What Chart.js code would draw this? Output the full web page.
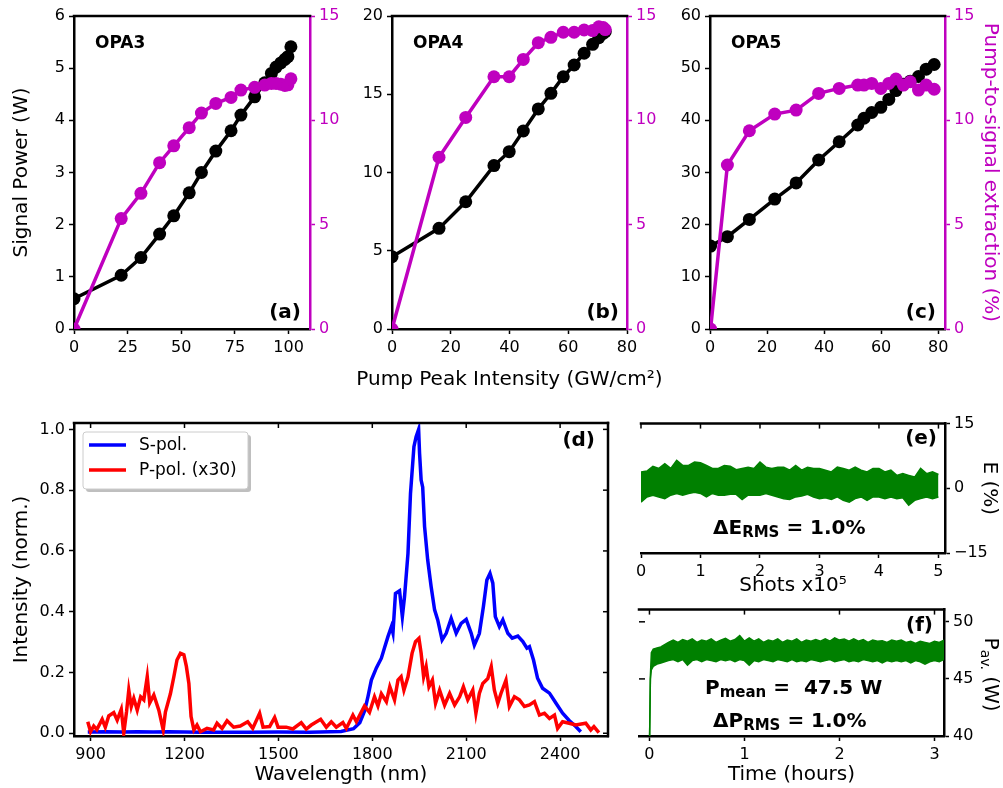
<!DOCTYPE html>
<html>
<head>
<meta charset="utf-8">
<title>OPA</title>
<script src="https://cdn.jsdelivr.net/npm/chart.js@4.4.1/dist/chart.umd.min.js"></script>
<style>
  html, body { margin: 0; padding: 0; background: #fff; }
  body { position: relative; width: 1003px; height: 788px; overflow: hidden; }
  canvas { position: absolute; }
</style>
</head>
<body>
<canvas id="grafA" width="345" height="362" style="left:0px;top:0px"></canvas>
<canvas id="grafB" width="340" height="396" style="left:330px;top:0px"></canvas>
<canvas id="grafC" width="335" height="362" style="left:668px;top:0px"></canvas>
<canvas id="grafD" width="620" height="390" style="left:0px;top:398px"></canvas>
<canvas id="grafE" width="372" height="189" style="left:631px;top:410px"></canvas>
<canvas id="grafF" width="374" height="192" style="left:629px;top:596px"></canvas>
<script>
// ---- dados ----

// (a) OPA3
const opa3Intensidade = [0, 22, 31.2, 39.9, 46.5, 53.7, 59.4, 66.1, 73.2, 77.8, 84.2, 88.9, 92, 94.2, 96.4, 98.3, 99.7, 101.1];
const opa3Potencia = [0.58, 1.03, 1.37, 1.82, 2.17, 2.61, 3.0, 3.41, 3.80, 4.10, 4.45, 4.72, 4.90, 5.02, 5.10, 5.17, 5.22, 5.41];
const opa3Extracao = [0, 5.29, 6.5, 7.97, 8.78, 9.65, 10.35, 10.81, 11.1, 11.45, 11.58, 11.69, 11.77, 11.77, 11.73, 11.67, 11.7, 11.99];

// (b) OPA4
const opa4Intensidade = [0, 16, 25.1, 34.7, 39.9, 44.7, 49.8, 54.1, 58.3, 62, 65.4, 68.3, 70.4, 71.9, 72.6];
const opa4Potencia = [4.62, 6.43, 8.13, 10.44, 11.33, 12.65, 14.06, 15.06, 16.12, 16.87, 17.62, 18.19, 18.61, 18.89, 19.0];
const opa4Extracao = [0, 8.23, 10.14, 12.09, 12.09, 12.92, 13.72, 13.98, 14.22, 14.22, 14.33, 14.3, 14.48, 14.45, 14.35];

// (c) OPA5
const opa5Intensidade = [0.2, 6.1, 13.8, 22.7, 30.2, 38.1, 45.3, 51.8, 54, 56.7, 59.9, 62.7, 65.2, 67.8, 70.2, 73.1, 75.8, 78.6];
const opa5Potencia = [15.9, 17.7, 21.0, 24.9, 28.0, 32.4, 35.9, 39.1, 40.4, 41.5, 42.5, 44.0, 45.7, 46.9, 47.5, 48.4, 49.8, 50.7];
const opa5Extracao = [0, 7.86, 9.5, 10.3, 10.49, 11.29, 11.53, 11.69, 11.69, 11.77, 11.53, 11.77, 11.98, 11.69, 11.85, 11.45, 11.69, 11.49];

// (d) espectros
const sPolNm = [
  891, 950, 1000, 1050, 1100, 1150, 1200, 1250, 1300, 1400,
  1500, 1600, 1700, 1740, 1760, 1776, 1786, 1797, 1813, 1829,
  1840, 1850, 1861, 1866, 1874, 1887, 1896, 1903, 1914, 1922,
  1933, 1940, 1948, 1951, 1956, 1961, 1967, 1977, 1988, 1999,
  2009, 2023, 2036, 2052, 2068, 2084, 2100, 2116, 2126, 2142,
  2155, 2166, 2176, 2185, 2193, 2206, 2217, 2233, 2247, 2265,
  2281, 2294, 2302, 2315, 2328, 2344, 2366, 2387, 2408, 2429,
  2450, 2466
];
const sPolValor = [
  0.004, 0.005, 0.004, 0.005, 0.004, 0.005, 0.004, 0.003, 0.003, 0.003,
  0.004, 0.003, 0.006, 0.015, 0.035, 0.075, 0.120, 0.175, 0.215, 0.247,
  0.285, 0.318, 0.351, 0.330, 0.460, 0.469, 0.384, 0.450, 0.592, 0.789,
  0.943, 0.976, 1.000, 0.921, 0.833, 0.810, 0.680, 0.570, 0.482, 0.406,
  0.373, 0.307, 0.329, 0.378, 0.329, 0.362, 0.375, 0.329, 0.290, 0.328,
  0.417, 0.504, 0.526, 0.494, 0.384, 0.351, 0.373, 0.329, 0.313, 0.320,
  0.302, 0.280, 0.285, 0.241, 0.181, 0.148, 0.132, 0.099, 0.066, 0.042,
  0.022, 0.005
];
const pPolNm = [
  891, 900, 910, 920, 937, 947, 958, 974, 985, 998,
  1006, 1015, 1022, 1030, 1038, 1049, 1060, 1070, 1081, 1089,
  1102, 1118, 1132, 1139, 1155, 1166, 1176, 1187, 1198, 1206,
  1214, 1221, 1230, 1240, 1251, 1272, 1293, 1304, 1320, 1336,
  1357, 1378, 1402, 1418, 1440, 1451, 1472, 1488, 1499, 1525,
  1546, 1573, 1589, 1605, 1635, 1653, 1669, 1685, 1706, 1717,
  1738, 1749, 1765, 1775, 1791, 1807, 1818, 1829, 1845, 1856,
  1871, 1882, 1892, 1901, 1914, 1927, 1938, 1949, 1956, 1964,
  1972, 1981, 1992, 2002, 2015, 2031, 2047, 2063, 2079, 2091,
  2105, 2121, 2131, 2142, 2153, 2169, 2180, 2190, 2201, 2211,
  2227, 2238, 2254, 2270, 2286, 2302, 2318, 2334, 2350, 2366,
  2382, 2392, 2408, 2429, 2450, 2482, 2498, 2508, 2524
];
const pPolValor = [
  0.038, 0.005, 0.024, 0.012, 0.046, 0.020, 0.057, 0.068, 0.043, 0.079,
  0.000, 0.072, 0.142, 0.088, 0.115, 0.076, 0.120, 0.110, 0.186, 0.100,
  0.126, 0.076, 0.011, 0.070, 0.130, 0.186, 0.241, 0.263, 0.258, 0.220,
  0.164, 0.055, 0.011, 0.027, 0.005, 0.016, 0.011, 0.033, 0.016, 0.041,
  0.020, 0.024, 0.038, 0.016, 0.066, 0.020, 0.022, 0.052, 0.020, 0.020,
  0.014, 0.035, 0.014, 0.027, 0.046, 0.020, 0.038, 0.020, 0.035, 0.016,
  0.060, 0.038, 0.070, 0.090, 0.069, 0.120, 0.090, 0.130, 0.104, 0.153,
  0.110, 0.175, 0.186, 0.142, 0.186, 0.263, 0.301, 0.312, 0.263, 0.186,
  0.219, 0.153, 0.175, 0.099, 0.142, 0.093, 0.131, 0.093, 0.120, 0.153,
  0.110, 0.142, 0.066, 0.131, 0.164, 0.180, 0.219, 0.142, 0.099, 0.131,
  0.175, 0.088, 0.120, 0.110, 0.088, 0.093, 0.104, 0.060, 0.066, 0.049,
  0.060, 0.016, 0.038, 0.033, 0.027, 0.033, 0.011, 0.022, 0.002
];

// (e) estabilidade de energia: envelope superior / inferior (%)
const energiaDisparos = [
  0, 0.1, 0.2, 0.3, 0.4, 0.5, 0.6, 0.7, 0.8, 0.9,
  1.0, 1.1, 1.2, 1.3, 1.4, 1.5, 1.6, 1.7, 1.8, 1.9,
  2.0, 2.1, 2.2, 2.3, 2.4, 2.5, 2.6, 2.7, 2.8, 2.9,
  3.0, 3.1, 3.2, 3.3, 3.4, 3.5, 3.6, 3.7, 3.8, 3.9,
  4.0, 4.1, 4.2, 4.3, 4.4, 4.5, 4.6, 4.7, 4.8, 4.9,
  5.0
];
const energiaSup = [
  3.8, 4.0, 5.1, 4.6, 5.7, 4.6, 6.5, 5.3, 5.3, 6.1,
  5.9, 5.3, 4.6, 4.6, 5.3, 5.1, 4.3, 4.6, 4.9, 4.6,
  6.1, 4.9, 4.6, 4.9, 4.9, 4.2, 5.3, 4.2, 4.9, 4.6,
  4.6, 4.2, 3.8, 4.9, 4.6, 4.2, 4.9, 4.2, 3.8, 4.6,
  4.6, 3.8, 4.2, 3.0, 3.4, 3.0, 2.6, 4.6, 3.4, 3.8,
  3.2
];
const energiaInf = [
  -3.2, -2.0, -1.6, -2.0, -2.4, -1.6, -1.2, -1.6, -1.2, -0.9,
  -1.2, -2.0, -1.2, -1.6, -1.6, -1.4, -1.4, -2.6, -1.6, -1.6,
  -1.6, -1.2, -1.6, -2.0, -2.4, -2.6, -2.0, -1.8, -1.4, -2.0,
  -2.4, -2.2, -2.6, -2.0, -2.8, -3.2, -2.4, -2.0, -2.8, -2.0,
  -2.0, -2.4, -2.0, -2.4, -2.2, -3.9, -2.8, -2.4, -2.0, -2.4,
  -2.0
];

// (f) potência média ao longo do tempo: envelope superior / inferior (W)
const tempoHoras = [
  0, 0.01, 0.02, 0.04, 0.08, 0.12, 0.16,
  0.2, 0.25, 0.3, 0.35, 0.4, 0.45, 0.5, 0.55, 0.6, 0.65,
  0.7, 0.75, 0.8, 0.85, 0.9, 0.95, 1.0, 1.05, 1.1, 1.15,
  1.2, 1.25, 1.3, 1.35, 1.4, 1.45, 1.5, 1.55, 1.6, 1.65,
  1.7, 1.75, 1.8, 1.85, 1.9, 1.95, 2.0, 2.05, 2.1, 2.15,
  2.2, 2.25, 2.3, 2.35, 2.4, 2.45, 2.5, 2.55, 2.6, 2.65,
  2.7, 2.75, 2.8, 2.85, 2.9, 2.95, 3.0, 3.05, 3.1
];
const potenciaSup = [
  39, 45.3, 47.3, 47.6, 47.7, 47.8, 48.0,
  48.2, 48.4, 48.2, 48.45, 48.3, 48.5, 48.2, 48.4, 48.3, 48.5,
  48.2, 48.4, 48.55, 48.3, 48.45, 48.8, 48.3, 48.6, 48.3, 48.5,
  48.2, 48.4, 48.3, 48.5, 48.2, 48.4, 48.3, 48.5, 48.2, 48.4,
  48.3, 48.45, 48.3, 48.5, 48.3, 48.6, 48.4, 48.5, 48.3, 48.5,
  48.3, 48.45, 48.2, 48.4, 48.3, 48.35, 48.2, 48.4, 48.3, 48.4,
  48.2, 48.3, 48.1, 48.3, 48.2, 48.1, 48.3, 48.2, 48.4
];
const potenciaInf = [
  39, 45.0, 45.8, 46.1, 46.3, 46.4, 46.5,
  46.6, 46.7, 46.5, 46.7, 46.2, 46.6, 46.7, 46.5, 46.7, 46.6,
  46.5, 46.7, 46.6, 46.7, 46.5, 46.7, 46.6, 46.2, 46.6, 46.5,
  46.7, 46.6, 46.5, 46.7, 46.6, 46.5, 46.7, 46.5, 46.6, 46.5,
  46.7, 46.6, 46.5, 46.6, 46.7, 46.5, 46.6, 46.7, 46.5, 46.6,
  46.5, 46.7, 46.6, 46.5, 46.6, 46.4, 46.6, 46.5, 46.6, 46.5,
  46.6, 46.4, 46.6, 46.5, 46.3, 46.5, 46.6, 46.5, 46.7
];

// ---- marcas dos eixos ----
const ticksA_x = [0, 25, 50, 75, 100];
const ticksA_y = [0, 1, 2, 3, 4, 5, 6];
const ticksB_x = [0, 20, 40, 60, 80];
const ticksB_y = [0, 5, 10, 15, 20];
const ticksC_x = [0, 20, 40, 60, 80];
const ticksC_y = [0, 10, 20, 30, 40, 50, 60];
const ticksExtracao = [0, 5, 10, 15];
const ticksD_x = [900, 1200, 1500, 1800, 2100, 2400];
const ticksD_y = [0, 0.2, 0.4, 0.6, 0.8, 1.0];
const ticksE_x = [0, 1, 2, 3, 4, 5];
const ticksE_y = [-15, 0, 15];
const ticksF_x = [0, 1, 2, 3];
const ticksF_y = [40, 45, 50];

// ---- estilo ----
const FONTE = '"DejaVu Sans", sans-serif';
const MAGENTA = '#bf00bf';
const VERDE = '#008000';

Chart.defaults.font.family = FONTE;
Chart.defaults.font.size = 16;
Chart.defaults.color = '#000';
Chart.defaults.animation = false;

const pontos = (xs, ys) => xs.map((x, i) => ({ x, y: ys[i] }));
const negrito = (px) => `bold ${px}px ${FONTE}`;
const normal = (px) => `${px}px ${FONTE}`;

const eixo = (o) => {
    const cor = o.cor || '#000';
    return {
        type: 'linear',
        position: o.pos,
        min: o.min,
        max: o.max,
        afterBuildTicks: (s) => { s.ticks = o.ticks.map(v => ({ value: v })); },
        afterFit: (s) => {
            if (o.pos === 'bottom') s.height = o.tam;
            else s.width = o.tam;
        },
        grid: { drawOnChartArea: false, drawTicks: true, tickLength: 5, tickWidth: 1.5, tickColor: cor },
        border: { display: true, color: cor, width: 2.5 },
        ticks: {
            color: cor,
            padding: 4,
            autoSkip: false,
            maxRotation: 0,
            font: { size: 16 },
            callback: o.formato || ((v) => String(v).replace('-', '\u2212'))
        },
        title: o.titulo
            ? { display: true, text: o.titulo, color: cor, font: { size: 20 }, padding: o.tituloPad }
            : { display: false }
    };
};

// moldura (lados sem eixo), marcas internas e textos
const moldura = {
    id: 'moldura',
    afterDraw(chart, args, opts) {
        const { ctx, chartArea: a } = chart;
        ctx.save();
        ctx.strokeStyle = '#000';
        ctx.lineWidth = 2.5;
        ctx.lineCap = 'square';
        (opts.lados || []).forEach(lado => {
            ctx.beginPath();
            if (lado === 'top') { ctx.moveTo(a.left, a.top); ctx.lineTo(a.right, a.top); }
            if (lado === 'right') { ctx.moveTo(a.right, a.top); ctx.lineTo(a.right, a.bottom); }
            ctx.stroke();
        });
        ctx.lineWidth = 1.5;
        ctx.lineCap = 'butt';
        (opts.internos || []).forEach(([lado, id]) => {
            const s = chart.scales[id];
            s.ticks.forEach(t => {
                const p = s.getPixelForValue(t.value);
                ctx.beginPath();
                if (lado === 'top') { ctx.moveTo(p, a.top); ctx.lineTo(p, a.top + 5); }
                if (lado === 'right') { ctx.moveTo(a.right, p); ctx.lineTo(a.right - 5, p); }
                if (lado === 'left') { ctx.moveTo(a.left, p); ctx.lineTo(a.left + 6, p); }
                ctx.stroke();
            });
        });
        ctx.restore();
    }
};

const textos = {
    id: 'textos',
    afterDraw(chart, args, opts) {
        const { ctx, chartArea: a } = chart;
        (opts.itens || []).forEach(it => {
            ctx.save();
            const x0 = it.direita !== undefined ? a.right - it.direita : a.left + it.x;
            ctx.translate(x0, a.top + it.y);
            if (it.rot) ctx.rotate(it.rot);
            ctx.fillStyle = it.cor || '#000';
            ctx.textBaseline = it.base || 'alphabetic';
            let largura = 0;
            it.partes.forEach(p => { ctx.font = p.f; largura += ctx.measureText(p.t).width; });
            let x = 0;
            if (it.direita !== undefined) x = -largura;
            if (it.centro) x = -largura / 2;
            it.partes.forEach(p => {
                ctx.font = p.f;
                ctx.fillText(p.t, x, p.dy || 0);
                x += ctx.measureText(p.t).width;
            });
            ctx.restore();
        });
    }
};

// legenda com caixa dentro do painel (d)
const legendaCaixa = {
    id: 'legendaCaixa',
    afterDraw(chart, args, opts) {
        if (!opts.entradas) return;
        const { ctx, chartArea: a } = chart;
        const x = a.left + 9, y = a.top + 9, w = 165, h = 57;
        ctx.save();
        ctx.fillStyle = 'rgba(0,0,0,0.25)';
        ctx.beginPath(); ctx.roundRect(x + 3, y + 3, w, h, 3); ctx.fill();
        ctx.fillStyle = '#fff';
        ctx.strokeStyle = '#cccccc';
        ctx.lineWidth = 1;
        ctx.beginPath(); ctx.roundRect(x, y, w, h, 3); ctx.fill(); ctx.stroke();
        ctx.font = normal(17);
        ctx.textBaseline = 'middle';
        opts.entradas.forEach((e, i) => {
            const yy = y + 13 + i * 25;
            ctx.strokeStyle = e.cor;
            ctx.lineWidth = 3.5;
            ctx.beginPath(); ctx.moveTo(x + 6, yy); ctx.lineTo(x + 43, yy); ctx.stroke();
            ctx.fillStyle = '#000';
            ctx.fillText(e.texto, x + 56, yy + 1);
        });
        ctx.restore();
    }
};

Chart.register(moldura, textos, legendaCaixa);

// ---- painéis (a), (b), (c) ----
const criarOpa = (id, intens, pot, extr, cfg) => new Chart(document.getElementById(id), {
    type: 'line',
    data: {
        datasets: [
            {
                data: pontos(intens, extr), yAxisID: 'y2',
                borderColor: MAGENTA, backgroundColor: MAGENTA,
                borderWidth: 3.5, pointRadius: 6.5, pointBorderWidth: 0, clip: 0
            },
            {
                data: pontos(intens, pot), yAxisID: 'y',
                borderColor: '#000', backgroundColor: '#000',
                borderWidth: 3.5, pointRadius: 6.5, pointBorderWidth: 0, clip: 0
            }
        ]
    },
    options: {
        responsive: false,
        layout: { padding: { top: 16, left: 0, right: 0, bottom: 0 } },
        plugins: {
            legend: { display: false },
            tooltip: { enabled: false },
            moldura: { lados: ['top'] },
            textos: {
                itens: [
                    { x: 21, y: 32, partes: [{ t: cfg.nome, f: negrito(17) }] },
                    { direita: cfg.gapRotulo, y: 302, partes: [{ t: cfg.rotulo, f: negrito(20) }] }
                ].concat(cfg.extras || [])
            }
        },
        scales: {
            x: eixo({ pos: 'bottom', min: 0, max: cfg.xMax, ticks: cfg.xTicks, tam: cfg.altX }),
            y: eixo({ pos: 'left', min: 0, max: cfg.yMax, ticks: cfg.yTicks, tam: cfg.largY,
                titulo: cfg.tituloY, tituloPad: { top: 10, bottom: 0 } }),
            y2: eixo({ pos: 'right', min: 0, max: 15, ticks: ticksExtracao, tam: cfg.largY2, cor: MAGENTA,
                titulo: cfg.tituloY2, tituloPad: { top: 1, bottom: 0 } })
        }
    }
});

criarOpa('grafA', opa3Intensidade, opa3Potencia, opa3Extracao, {
    nome: 'OPA3', rotulo: '(a)', gapRotulo: 9, xMax: 110, xTicks: ticksA_x, yMax: 6, yTicks: ticksA_y,
    altX: 33, largY: 74, largY2: 35, tituloY: 'Signal Power (W)'
});
criarOpa('grafB', opa4Intensidade, opa4Potencia, opa4Extracao, {
    nome: 'OPA4', rotulo: '(b)', gapRotulo: 8, xMax: 80, xTicks: ticksB_x, yMax: 20, yTicks: ticksB_y,
    altX: 67, largY: 62, largY2: 43,
    // título comum do eixo x, centrado sob o painel do meio
    extras: [{ x: 117.5, y: 364, centro: true, base: 'middle',
               partes: [{ t: 'Pump Peak Intensity (GW/cm\u00B2)', f: normal(20) }] }]
});
criarOpa('grafC', opa5Intensidade, opa5Potencia, opa5Extracao, {
    nome: 'OPA5', rotulo: '(c)', gapRotulo: 9, xMax: 82.4, xTicks: ticksC_x, yMax: 60, yTicks: ticksC_y,
    altX: 33, largY: 42, largY2: 58, tituloY2: 'Pump-to-signal extraction (%)'
});

// ---- painel (d): espectros ----
new Chart(document.getElementById('grafD'), {
    type: 'line',
    data: {
        datasets: [
            { label: 'P-pol. (x30)', data: pontos(pPolNm, pPolValor), borderColor: '#ff0000',
              borderWidth: 3.5, pointRadius: 0, clip: 0 },
            { label: 'S-pol.', data: pontos(sPolNm, sPolValor), borderColor: '#0000ff',
              borderWidth: 3.5, pointRadius: 0, clip: 0 }
        ]
    },
    options: {
        responsive: false,
        layout: { padding: { top: 25, left: 0, right: 12, bottom: 0 } },
        plugins: {
            legend: { display: false },
            tooltip: { enabled: false },
            moldura: { lados: ['top', 'right'], internos: [['top', 'x'], ['right', 'y']] },
            legendaCaixa: { entradas: [{ texto: 'S-pol.', cor: '#0000ff' }, { texto: 'P-pol. (x30)', cor: '#ff0000' }] },
            textos: { itens: [{ direita: 13, y: 23, partes: [{ t: '(d)', f: negrito(20) }] }] }
        },
        scales: {
            x: eixo({ pos: 'bottom', min: 847, max: 2553, ticks: ticksD_x, tam: 52,
                titulo: 'Wavelength (nm)', tituloPad: { top: 0, bottom: 1 } }),
            y: eixo({ pos: 'left', min: -0.009, max: 1.021, ticks: ticksD_y, tam: 74,
                formato: (v) => v.toFixed(1), titulo: 'Intensity (norm.)', tituloPad: { top: 10, bottom: 0 } })
        }
    }
});

// ---- painel (e): energia por disparo ----
new Chart(document.getElementById('grafE'), {
    type: 'line',
    data: {
        datasets: [
            { data: pontos(energiaDisparos, energiaSup), borderColor: VERDE, backgroundColor: VERDE,
              borderWidth: 1.5, pointRadius: 0, fill: '+1', clip: 0 },
            { data: pontos(energiaDisparos, energiaInf), borderColor: VERDE,
              borderWidth: 1.5, pointRadius: 0, fill: false, clip: 0 }
        ]
    },
    options: {
        responsive: false,
        layout: { padding: { top: 13, left: 10, right: 0, bottom: 0 } },
        plugins: {
            legend: { display: false },
            tooltip: { enabled: false },
            moldura: { lados: ['top'], internos: [['top', 'x']] },
            textos: {
                itens: [
                    { direita: 8, y: 20, partes: [{ t: '(e)', f: negrito(20) }] },
                    { x: 72, y: 110, partes: [
                        { t: '\u0394E', f: negrito(20) },
                        { t: 'RMS', f: negrito(15), dy: 3 },
                        { t: ' = 1.0%', f: negrito(20) }
                    ] }
                ]
            }
        },
        scales: {
            x: eixo({ pos: 'bottom', min: 0, max: 5.11, ticks: ticksE_x, tam: 46,
                titulo: 'Shots x10\u2075', tituloPad: { top: 0, bottom: 1 } }),
            y: eixo({ pos: 'right', min: -15, max: 15, ticks: ticksE_y, tam: 58,
                titulo: 'E (%)', tituloPad: { top: 2, bottom: 0 } })
        }
    }
});

// ---- painel (f): potência média ----
new Chart(document.getElementById('grafF'), {
    type: 'line',
    data: {
        datasets: [
            { data: pontos(tempoHoras, potenciaSup), borderColor: VERDE, backgroundColor: VERDE,
              borderWidth: 1.5, pointRadius: 0, fill: '+1', clip: 0 },
            { data: pontos(tempoHoras, potenciaInf), borderColor: VERDE,
              borderWidth: 1.5, pointRadius: 0, fill: false, clip: 0 }
        ]
    },
    options: {
        responsive: false,
        layout: { padding: { top: 10, left: 10, right: 0, bottom: 0 } },
        plugins: {
            legend: { display: false },
            tooltip: { enabled: false },
            moldura: { lados: ['top'], internos: [['top', 'x'], ['left', 'y']] },
            textos: {
                itens: [
                    { direita: 11, y: 21, partes: [{ t: '(f)', f: negrito(20) }] },
                    { x: 66, y: 84, partes: [
                        { t: 'P', f: negrito(20) },
                        { t: 'mean', f: negrito(15), dy: 3 },
                        { t: ' =  47.5 W', f: negrito(20) }
                    ] },
                    { x: 74, y: 117, partes: [
                        { t: '\u0394P', f: negrito(20) },
                        { t: 'RMS', f: negrito(15), dy: 3 },
                        { t: ' = 1.0%', f: negrito(20) }
                    ] },
                    { x: 351, y: 65, rot: Math.PI / 2, centro: true, base: 'middle', partes: [
                        { t: 'P', f: normal(20) },
                        { t: 'av.', f: normal(14), dy: 5 },
                        { t: ' (W)', f: normal(20) }
                    ] }
                ]
            }
        },
        scales: {
            x: eixo({ pos: 'bottom', min: -0.11, max: 3.1, ticks: ticksF_x, tam: 52,
                titulo: 'Time (hours)', tituloPad: { top: 0, bottom: 1 } }),
            y: eixo({ pos: 'right', min: 40, max: 51.07, ticks: ticksF_y, tam: 59 })
        }
    }
});
</script>
</body>
</html>
